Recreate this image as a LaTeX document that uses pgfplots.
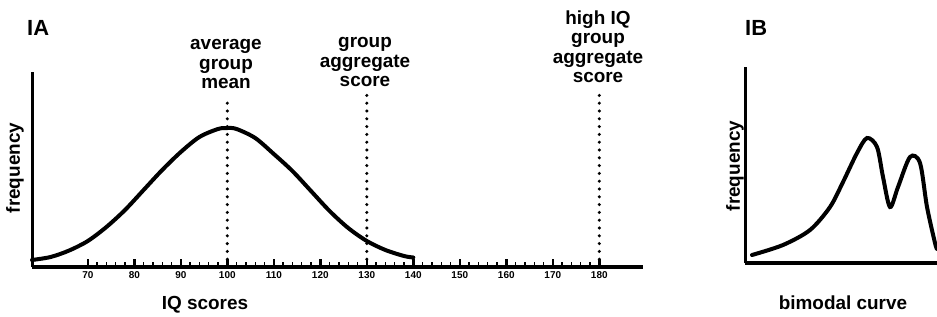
\documentclass[border=0pt]{standalone}
\usepackage{pgfplots}
\pgfplotsset{compat=1.18}
\usepackage{fontspec}
\setmainfont{Liberation Sans}
\begin{document}
\begin{tikzpicture}[x=1bp,y=1bp]
\path[use as bounding box] (0,0) rectangle (937,316);
% Panel A
\begin{axis}[
  at={(32bp,49bp)}, anchor=south west,
  scale only axis, width=611bp, height=195bp,
  xmin=58, xmax=189.4, ymin=0, ymax=195,
  axis x line=bottom, axis y line=left,
  x axis line style={line width=4.5bp,-},
  y axis line style={line width=3bp,-},
  ytick=\empty,
  xtick={70,80,...,180},
  minor x tick num=4,
  tick align=inside,
  major tick length=8bp, minor tick length=5bp,
  major tick style={line width=2.6bp, black},
  minor tick style={line width=1.4bp, black},
  /pgf/number format/assume math mode=true,
  xticklabel style={font=\fontsize{10}{10}\selectfont\bfseries, yshift=-1bp},
  clip=false,
]
\addplot[line width=4bp, smooth, line cap=round] coordinates {
 (58,7) (62,10) (66,16.5) (70,26) (74,40) (78,57) (82,77) (86,97) (90,115) (94,130) (98,138) (100,139)
 (102,138) (106,129) (110,113) (114,96) (118,76) (122,56) (126,39) (130,26) (134,17) (138,11) (140,9.5)};
\addplot[line width=3.4bp, dash pattern=on 0pt off 7.8bp, line cap=round] coordinates {(100,0) (100,170)};
\addplot[line width=3.4bp, dash pattern=on 0pt off 7.8bp, line cap=round] coordinates {(130,0) (130,172)};
\addplot[line width=3.4bp, dash pattern=on 0pt off 7.8bp, line cap=round] coordinates {(180,0) (180,177)};
\end{axis}
% Panel B
\begin{axis}[
  at={(745bp,53bp)}, anchor=south west,
  scale only axis, width=192bp, height=196bp,
  xmin=0, xmax=192, ymin=0, ymax=196,
  axis x line=bottom, axis y line=left,
  x axis line style={line width=3.5bp,-},
  y axis line style={line width=3bp,-},
  xtick=\empty, ytick=\empty,
  clip=false,
]
\addplot[line width=4bp, smooth, line cap=round] coordinates {
 (7,8) (38,18) (65,33) (85,56) (98,81) (112,110) (122,125) (132,116) (138,86) (145,56) (153,76) (165,106) (175,100) (182,56) (190,20) (192,14)};
\end{axis}
% Texts
\begin{scope}[every node/.style={font=\fontsize{19}{19.5}\selectfont\bfseries, align=center, inner sep=0pt}]
\node[anchor=west, font=\fontsize{22}{22}\selectfont\bfseries] at (27,288) {IA};
\node[anchor=west, font=\fontsize{22}{22}\selectfont\bfseries] at (745,288) {IB};
\node[anchor=south] at (226,227) {average\\group\\mean};
\node[anchor=south] at (365,229) {group\\aggregate\\score};
\node[anchor=south] at (598,233) {high IQ\\group\\aggregate\\score};
\node[rotate=90] at (15,148) {frequency};
\node[rotate=90] at (735,150) {frequency};
\node at (205,11) {IQ scores};
\node at (843,13) {bimodal curve};
\end{scope}
\end{tikzpicture}
\end{document}
